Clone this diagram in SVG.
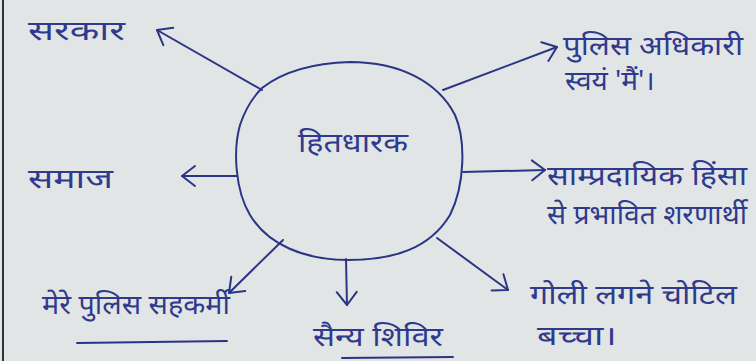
<svg xmlns="http://www.w3.org/2000/svg" width="756" height="361" viewBox="0 0 756 361">
<style>
.ink{fill:none;stroke:#2b3585;stroke-width:2;stroke-linecap:round;stroke-linejoin:round}
.t{font-family:"Noto Sans","Noto Sans Devanagari","Lohit Devanagari",sans-serif;fill:#2f3a8c;font-size:27px}
</style>
<defs>
<marker id="ah" viewBox="0 0 20 24" refX="18" refY="12" markerWidth="20" markerHeight="24" markerUnits="userSpaceOnUse" orient="auto">
<path d="M5,2 L18,12 L5,22" fill="none" stroke="#2b3585" stroke-width="2" stroke-linecap="round" stroke-linejoin="round"/>
</marker>
</defs>
<rect width="756" height="361" fill="#e2e5e6"/>
<line x1="3" y1="0" x2="3" y2="361" stroke="#333" stroke-width="2"/>
<g id="connectors" class="ink">
<line x1="262" y1="90" x2="157" y2="30" marker-end="url(#ah)"/>
<line x1="237" y1="176" x2="182" y2="176" marker-end="url(#ah)"/>
<line x1="283" y1="240" x2="229" y2="293" marker-end="url(#ah)"/>
<line x1="346" y1="259" x2="347" y2="305" marker-end="url(#ah)"/>
<line x1="437" y1="238" x2="508" y2="290" marker-end="url(#ah)"/>
<line x1="463" y1="172" x2="545" y2="170" marker-end="url(#ah)"/>
<line x1="443" y1="90" x2="557" y2="47" marker-end="url(#ah)"/>
</g>
<g id="center">
<path class="ink" d="M262,88 C285,70 315,63 350,62 C400,62 438,82 455,115 C466,140 465,185 450,215 C430,248 395,260 348,260 C305,260 268,245 250,215 C235,190 233,150 240,125 C245,110 252,98 262,88 Z"/>
<text class="t" x="298" y="152" font-size="30" textLength="110" lengthAdjust="spacingAndGlyphs">हितधारक</text>
</g>
<g id="n-sarkar"><text class="t" x="28" y="40" textLength="97" lengthAdjust="spacingAndGlyphs">सरकार</text></g>
<g id="n-samaj"><text class="t" x="28" y="188" textLength="85" lengthAdjust="spacingAndGlyphs">समाज</text></g>
<g id="n-sahkarmi"><text class="t" x="42" y="314" textLength="188" lengthAdjust="spacingAndGlyphs">मेरे पुलिस सहकर्मी</text>
<line class="ink" x1="77" y1="343" x2="227" y2="341"/></g>
<g id="n-shivir"><text class="t" x="313" y="346" textLength="130" lengthAdjust="spacingAndGlyphs">सैन्य शिविर</text>
<line class="ink" x1="342" y1="358" x2="453" y2="357"/></g>
<g id="n-bachcha"><text class="t" x="530" y="304" font-size="25" textLength="207" lengthAdjust="spacingAndGlyphs">गोली लगने चोटिल</text>
<text class="t" x="537" y="345" font-size="25" textLength="80" lengthAdjust="spacingAndGlyphs">बच्चा।</text></g>
<g id="n-sharnarthi"><text class="t" x="547" y="185" textLength="200" lengthAdjust="spacingAndGlyphs">साम्प्रदायिक हिंसा</text>
<text class="t" x="547" y="224" textLength="200" lengthAdjust="spacingAndGlyphs">से प्रभावित शरणार्थी</text></g>
<g id="n-main"><text class="t" x="563" y="55" textLength="180" lengthAdjust="spacingAndGlyphs">पुलिस अधिकारी</text>
<text class="t" x="565" y="90" textLength="90" lengthAdjust="spacingAndGlyphs">स्वयं 'मैं'।</text></g>
</svg>
